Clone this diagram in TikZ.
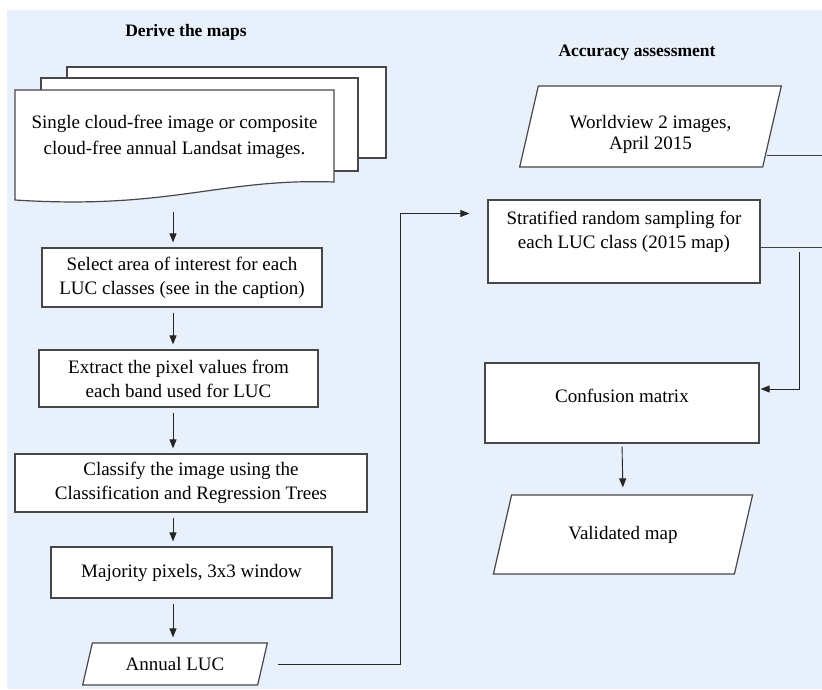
\documentclass[tikz,border=0pt]{standalone}
\usepackage{fontspec}
\setmainfont{Liberation Serif}
\usetikzlibrary{arrows.meta,positioning}
\definecolor{paleblue}{HTML}{E8F0FC}
\definecolor{boxline}{HTML}{474747}
\tikzset{
  box/.style={rectangle,draw=boxline,line width=1.2pt,fill=white,align=center,inner sep=0pt,font=\fontsize{19}{24}\selectfont},
  sheet/.style={draw=boxline,line width=1.2pt,fill=white},
  heading/.style={font=\fontsize{17.5}{21}\selectfont\bfseries},
  arrow/.style={-{Triangle[length=9pt,width=7pt]},line width=0.9pt,black!85,shorten <=5pt,shorten >=5pt},
  link/.style={line width=0.9pt,black!75}
}
% name, centre x, centre y, side, height, text
\newcommand{\SlantBox}[6]{%
  \draw[sheet] ({#2-#4/2+0.115*#5},{#3-#5/2}) -- ({#2+#4/2+0.115*#5},{#3-#5/2})
    -- ({#2+#4/2-0.115*#5},{#3+#5/2}) -- ({#2-#4/2-0.115*#5},{#3+#5/2}) -- cycle;
  \node[box,draw=none,fill=none,minimum width=#4pt,minimum height=#5pt] (#1) at (#2,#3) {#6};
}

\begin{document}
\begin{tikzpicture}[x=1pt,y=-1pt]
  \useasboundingbox (0,0) rectangle (822,689);
  \fill[paleblue] (7,10) rectangle (822,689);
  \node[heading] (lefthead) at (186,32) {Derive the maps};
  \node[heading] (righthead) at (637,53) {Accuracy assessment};
  \draw[sheet] (67,67) rectangle (386,158);
  \draw[sheet] (41,78) rectangle (358,171);
  \draw[sheet] (15,90) -- (334,90) -- (334,182) .. controls (220,178) and (170,210) .. (15,200) -- cycle;
  \node[box,draw=none,fill=none,minimum width=319pt,minimum height=92pt,font=\fontsize{19}{26}\selectfont] (src) at (174.5,137) {Single cloud-free image or composite\\cloud-free annual Landsat images.};
  \node[box,minimum width=280pt,minimum height=59pt] (aoi) at (182,277.5) {Select area of interest for each\\LUC classes (see in the caption)};
  \node[box,minimum width=279pt,minimum height=57pt] (pix) at (178.5,378.5) {Extract the pixel values from\\each band used for LUC};
  \node[box,minimum width=352pt,minimum height=58pt] (cart) at (191,483) {Classify the image using the\\Classification and Regression Trees};
  \node[box,minimum width=281pt,minimum height=51pt] (maj) at (191.5,572.5) {Majority pixels, 3x3 window};
  \SlantBox{luc}{175}{664}{175}{42}{Annual LUC}
  \SlantBox{wv}{650.5}{126.5}{243}{81}{\mbox{}\\[5pt]Worldview 2 images,\\[-3pt]April 2015}
  \node[box,minimum width=272pt,minimum height=83pt] (strat) at (624,241.5) {Stratified random sampling for\\each LUC class (2015 map)\\\mbox{}};
  \node[box,minimum width=274pt,minimum height=80pt] (conf) at (622,403) {Confusion matrix\\[-10pt]\mbox{}};
  \SlantBox{valid}{623}{534.5}{241}{79}{Validated map}
  \coordinate (col) at (173,0);
  \coordinate (bus) at (400,0);
  \coordinate (rim) at (822,0);
  \coordinate (drop) at (799,252);
  \draw[arrow,shorten <=28pt] (col |- src.south) -- (col |- aoi.north);
  \foreach \a/\b in {aoi/pix,pix/cart,cart/maj,maj/luc}
    \draw[arrow] (col |- \a.south) -- (col |- \b.north);
  \draw[arrow,shorten <=15pt,shorten >=18pt] (luc.east) -| ([yshift=28pt]strat.west -| bus) -- ([yshift=28pt]strat.west);
  \draw[link] ([xshift=-6pt,yshift=-28.5pt]wv.east) coordinate (wvout) -- (wvout -| rim);
  \draw[link] ([yshift=-5.5pt]strat.east) coordinate (sout) -- (sout -| rim);
  \draw[arrow,shorten <=0pt,shorten >=1pt] (drop) |- ([yshift=14pt]conf.east);
  \draw[arrow,shorten <=3pt,shorten >=7pt] (conf.south) -- (valid.north);
\end{tikzpicture}
\end{document}
